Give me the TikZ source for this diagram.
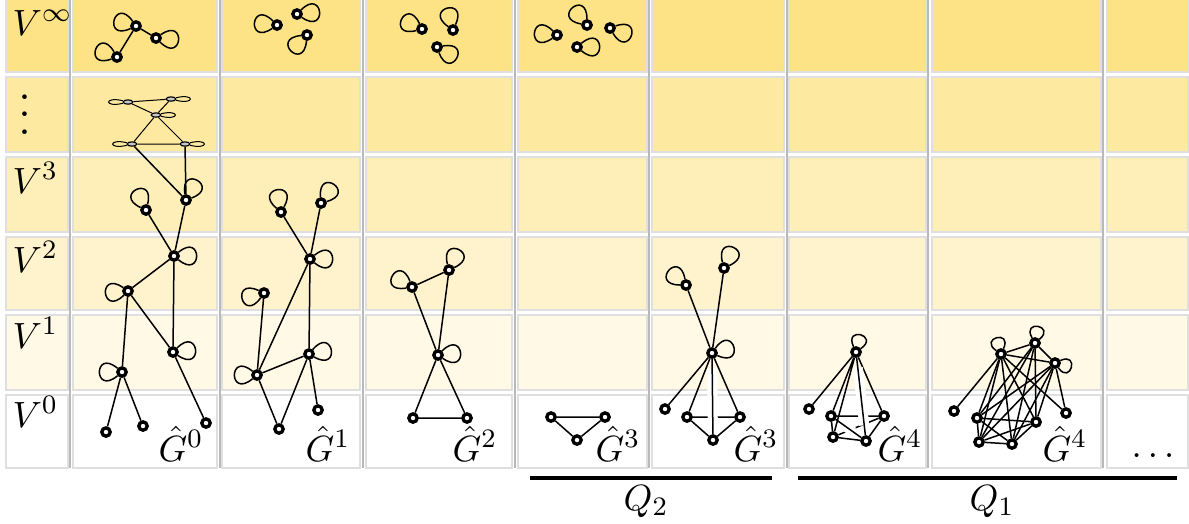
\documentclass[tikz,border=0pt]{standalone}
\usepackage{amsmath}
\usetikzlibrary{calc,shapes.geometric}
\definecolor{Gold}{RGB}{253,226,128}
% loop at a vertex: [control distance]{node}{direction}
\newcommand\lp[3][9.5pt]{%
  \pgfmathtruncatemacro\lpo{#3+40}\pgfmathtruncatemacro\lpi{#3-40}%
  \draw[ln] (#2) to[out=\lpo,in=\lpi,min distance=#1] (#2);}
% flattened loop for the vanishing levels
\newcommand\flp[2]{%
  \pgfmathtruncatemacro\lpo{#2+14}\pgfmathtruncatemacro\lpi{#2-14}%
  \draw[fln] (#1) to[out=\lpo,in=\lpi,min distance=6pt] (#1);}

\begin{document}
\begin{tikzpicture}[x=0.3pt,y=-0.3pt,
vx/.style={circle,draw,line width=1pt,fill=white,inner sep=0pt,minimum size=2.5pt},
fv/.style={ellipse,draw,line width=0.35pt,fill=gray!45,inner sep=0pt,minimum width=2.9pt,minimum height=1.3pt},
ln/.style={line width=0.45pt},
fln/.style={line width=0.3pt},
over/.style={preaction={draw,white,line width=3pt,shorten <=3pt,shorten >=3pt}},
cell/.style={draw=gray!25,line width=0.4pt},
colsep/.style={draw=gray!55,line width=0.8pt},
lab/.style={font=\fontsize{11}{13}\selectfont,inner sep=0pt},
qbar/.style={line width=1.2pt}
]
\clip (0,0) rectangle (1189,523);
% level rows
\foreach \ya/\yb/\rc in {-5/72/Gold!95,77/152/Gold!75,157/232/Gold!55,237/310/Gold!40,315/390/Gold!20,395/468/white}
  \foreach \xa/\xb in {6/68,73/217,222/360,366/512,518/647,652/784,789/926,932/1101,1107/1188}
    \draw[cell,fill=\rc] (\xa,\ya) rectangle (\xb,\yb);
\foreach \xs in {70,220,363,515,649,787,928,1103}
  \draw[colsep] (\xs,-5) -- (\xs,468);
% level labels
\node[lab,anchor=base west] (vinf) at (12,35) {$V^\infty$};
\node[lab,scale=1.3,anchor=base] (vdots) at (25,134) {$\vdots$};
\node[lab,anchor=base west] (v3) at (12,193) {$V^3$};
\node[lab,anchor=base west] (v2) at (12,272) {$V^2$};
\node[lab,anchor=base west] (v1) at (12,348) {$V^1$};
\node[lab,anchor=base west] (v0) at (12,427) {$V^0$};

% G^0
\node[vx] (a1) at (136,26) {};
\node[vx] (a2) at (156,38) {};
\node[vx] (a3) at (117,57) {};
\node[fv] (f1) at (128,102) {};
\node[fv] (f2) at (171,99) {};
\node[fv] (f3) at (156,115) {};
\node[fv] (f4) at (132,144) {};
\node[fv] (f5) at (185,144) {};
\node[vx] (a4) at (146,210) {};
\node[vx] (a5) at (186,200) {};
\node[vx] (a6) at (174,256) {};
\node[vx] (a7) at (128,291) {};
\node[vx] (a8) at (173,352) {};
\node[vx] (a9) at (122,372) {};
\node[vx] (a10) at (106,432) {};
\node[vx] (a11) at (143,426) {};
\node[vx] (a12) at (206,423) {};
\draw[ln] (a1)--(a2) (a1)--(a3);
\draw[fln] (f1)--(f2) (f1)--(f3) (f2)--(f3) (f3)--(f4) (f3)--(f5) (f4)--(f5);
\draw[ln] (f4)--(a5) (f5)--(a5);
\draw[ln] (a4)--(a6) (a5)--(a6) (a6)--(a7) (a6)--(a8) (a7)--(a8) (a7)--(a9)
  (a9)--(a10) (a9)--(a11) (a8)--(a12);
\lp{a1}{165} \lp{a2}{-5} \lp{a3}{160}
\flp{f1}{180} \flp{f2}{0} \flp{f3}{0} \flp{f4}{180} \flp{f5}{0}
\lp{a4}{115} \lp{a5}{60} \lp{a6}{0} \lp{a7}{185} \lp{a8}{5} \lp{a9}{180}
\node[lab,anchor=base west] (l0) at (158,461) {$\hat G^0$};

% G^1
\node[vx] (b1) at (277,25) {};
\node[vx] (b2) at (297,14) {};
\node[vx] (b3) at (307,35) {};
\node[vx] (b4) at (281,212) {};
\node[vx] (b5) at (321,203) {};
\node[vx] (b6) at (310,259) {};
\node[vx] (b7) at (264,293) {};
\node[vx] (b8) at (309,354) {};
\node[vx] (b9) at (257,375) {};
\node[vx] (b10) at (279,429) {};
\node[vx] (b11) at (318,410) {};
\draw[ln] (b4)--(b6) (b5)--(b6) (b6)--(b8) (b6)--(b9) (b7)--(b9) (b9)--(b8)
  (b9)--(b10) (b8)--(b10) (b8)--(b11);
\lp{b1}{175} \lp{b2}{5} \lp{b3}{225}
\lp{b4}{100} \lp{b5}{55} \lp{b6}{0} \lp{b7}{195} \lp{b8}{10} \lp{b9}{180}
\node[lab,anchor=base west] (l1) at (305,461) {$\hat G^1$};

% G^2
\node[vx] (c1) at (422,29) {};
\node[vx] (c2) at (453,30) {};
\node[vx] (c3) at (437,47) {};
\node[vx] (c4) at (412,287) {};
\node[vx] (c5) at (449,270) {};
\node[vx] (c6) at (438,355) {};
\node[vx] (c7) at (413,418) {};
\node[vx] (c8) at (467,418) {};
\draw[ln] (c4)--(c5) (c4)--(c6) (c5)--(c6) (c6)--(c7) (c6)--(c8) (c7)--(c8);
\lp{c1}{155} \lp{c2}{105} \lp{c3}{-30}
\lp{c4}{150} \lp{c5}{65} \lp{c6}{5}
\node[lab,anchor=base west] (l2) at (452,461) {$\hat G^2$};

% G^3, first
\node[vx] (d1) at (557,35) {};
\node[vx] (d2) at (587,25) {};
\node[vx] (d3) at (610,28) {};
\node[vx] (d4) at (577,47) {};
\node[vx] (d5) at (551,417) {};
\node[vx] (d6) at (605,417) {};
\node[vx] (d7) at (577,440) {};
\draw[ln] (d5)--(d6) (d5)--(d7) (d6)--(d7);
\lp{d1}{175} \lp{d2}{130} \lp{d3}{-20} \lp{d4}{0}
\node[lab,anchor=base west] (l3) at (595,461) {$\hat G^3$};

% G^3, second
\node[vx] (e1) at (686,285) {};
\node[vx] (e2) at (724,268) {};
\node[vx] (e3) at (712,353) {};
\node[vx] (e4) at (665,409) {};
\node[vx] (e5) at (687,417) {};
\node[vx] (e6) at (740,417) {};
\node[vx] (e7) at (713,440) {};
\draw[ln] (e1)--(e3) (e2)--(e3) (e3)--(e4) (e3)--(e5) (e3)--(e6) (e5)--(e7) (e6)--(e7) (e5)--(e6);
\draw[ln,over] (e3)--(e7);
\lp{e1}{140} \lp{e2}{65} \lp{e3}{15}
\node[lab,anchor=base west] (l4) at (733,461) {$\hat G^3$};

% G^4, first
\node[vx] (g1) at (856,352) {};
\node[vx] (g2) at (809,409) {};
\node[vx] (g3) at (831,416) {};
\node[vx] (g4) at (884,416) {};
\node[vx] (g5) at (833,437) {};
\node[vx] (g6) at (866,441) {};
\draw[ln] (g1)--(g2) (g1)--(g3) (g1)--(g4) (g1)--(g5) (g3)--(g5) (g5)--(g6) (g6)--(g4)
  (g3)--(g4) (g5)--(g4);
\draw[ln,over] (g1)--(g6);
\draw[ln,over] (g3)--(g6);
\lp[7pt]{g1}{75}
\node[lab,anchor=base west] (l5) at (877,461) {$\hat G^4$};

% G^4, second
\node[vx] (h1) at (1001,354) {};
\node[vx] (h2) at (1035,343) {};
\node[vx] (h3) at (1055,363) {};
\node[vx] (h4) at (954,411) {};
\node[vx] (h5) at (977,418) {};
\node[vx] (h6) at (1036,422) {};
\node[vx] (h7) at (1066,413) {};
\node[vx] (h8) at (979,442) {};
\node[vx] (h9) at (1012,444) {};
\draw[ln] (h1)--(h2) (h2)--(h3) (h1)--(h3) (h1)--(h4) (h3)--(h7) (h1)--(h7);
\foreach \s in {h1,h2,h3}
  \foreach \d in {h5,h6,h8,h9}
    \draw[ln] (\s)--(\d);
\draw[ln] (h5)--(h6) (h5)--(h8) (h5)--(h9) (h8)--(h9) (h8)--(h6) (h9)--(h6);
\lp[6.5pt]{h1}{105} \lp[6.5pt]{h2}{80} \lp[6.5pt]{h3}{-15}
\node[lab,anchor=base west] (l6) at (1042,461) {$\hat G^4$};

\node[lab,anchor=base west] (more) at (1131,457) {$\ldots$};

% parts
\draw[qbar] (530,478) -- (772,478);
\draw[qbar] (798,478) -- (1177,478);
\node[lab,anchor=base west] (q2) at (623,510) {$Q_2$};
\node[lab,anchor=base west] (q1) at (969,510) {$Q_1$};
\end{tikzpicture}
\end{document}
